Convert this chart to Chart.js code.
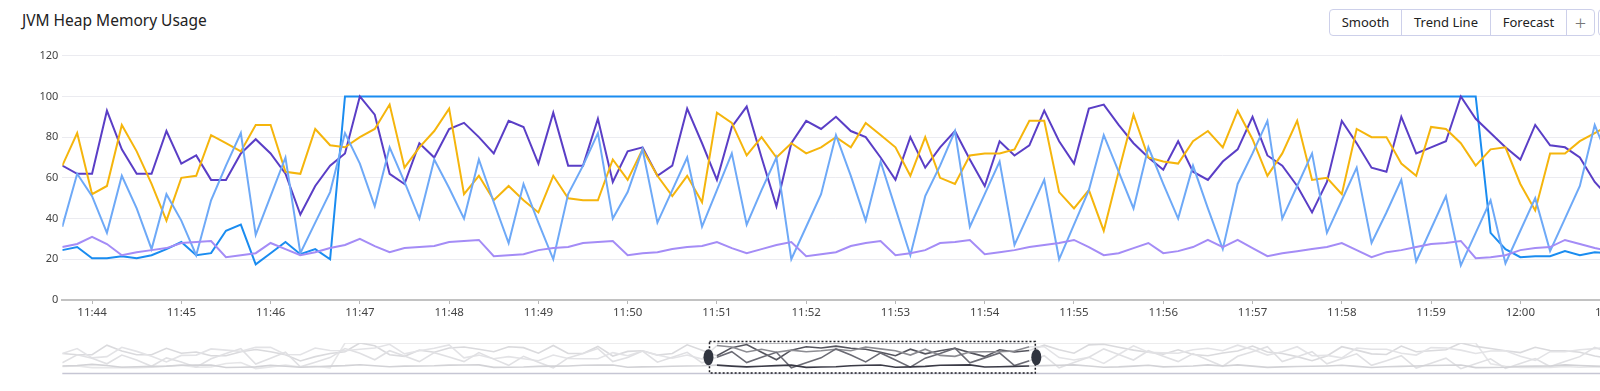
<!DOCTYPE html>
<html>
<head>
<meta charset="utf-8">
<script src="https://cdn.jsdelivr.net/npm/chart.js@4.4.1/dist/chart.umd.min.js"></script>
<style>
  html, body { margin: 0; padding: 0; background: #fff; overflow: hidden; width: 1600px; height: 391px; }
  body { font-family: "Noto Sans", "Open Sans", sans-serif; position: relative; }
  #title { position: absolute; left: 22px; top: 9px; font-size: 15.5px; color: #222; white-space: nowrap; }
  .btns { position: absolute; left: 1329px; top: 9px; height: 27px; display: flex;
          border: 1px solid #cdd0ea; border-radius: 4px; box-sizing: border-box; }
  .btns div { font-size: 13px; color: #222; line-height: 25px; text-align: center; border-right: 1px solid #cdd0ea; }
  .btns div:last-child { border-right: none; color: #777; font-size: 20px; font-weight: 300; }
  .more { position: absolute; left: 1598px; top: 9px; width: 30px; height: 27px; border: 1px solid #cdd0ea; border-radius: 4px; box-sizing: border-box; }
  #main { position: absolute; left: 0; top: 40px; }
  #nav { position: absolute; left: 0; top: 330px; }
</style>
</head>
<body>
<div id="title">JVM Heap Memory Usage</div>
<div class="btns">
  <div style="width:71px">Smooth</div>
  <div style="width:88px">Trend Line</div>
  <div style="width:75px">Forecast</div>
  <div style="width:27px">+</div>
</div>
<div class="more"></div>
<canvas id="main" width="1640" height="285"></canvas>
<canvas id="nav" width="1640" height="50"></canvas>
<script>
// samples every 10 s starting at 11:43:40
const START = 11 * 3600 + 43 * 60 + 40;
const STEP = 10;
const END = 12 * 3600 + 60;

const darkPurple = [66, 62, 62, 93, 74, 62, 62, 83, 67, 71, 59, 59, 72, 79, 72, 62, 42, 56, 66, 72, 100, 91, 62, 57, 77,
  70, 84, 87, 80, 72, 88, 85, 67, 92, 66, 66, 89, 58, 73, 75, 61, 66, 94, 77, 59, 85, 95, 70, 46, 77, 88,
  84, 90, 83, 80, 70, 59, 80, 65, 75, 83, 69, 56, 78, 71, 76, 93, 78, 67, 94, 96, 86, 77, 70, 64, 78, 63, 59,
  68, 74, 90, 71, 66, 56, 43, 58, 88, 77, 65, 63, 90, 72, 75, 78, 100, 89, 82, 75, 69, 86, 76, 75, 70, 58, 50];
const yellow = [66, 82, 52, 56, 86, 73, 57, 39, 60, 61, 81, 77, 73, 86, 86, 63, 62, 84, 76, 75, 80, 84, 96, 65, 75,
  83, 94, 52, 61, 49, 56, 49, 43, 61, 50, 49, 49, 69, 59, 74, 61, 51, 61, 48, 92, 87, 71, 80, 70, 77, 72,
  75, 80, 75, 87, 81, 75, 61, 80, 60, 57, 71, 72, 72, 74, 88, 88, 53, 45, 54, 34, 63, 91, 70, 68, 67, 78, 83,
  75, 93, 79, 61, 72, 88, 59, 60, 52, 84, 80, 80, 67, 61, 85, 84, 77, 66, 74, 75, 57, 44, 72, 72, 78, 82, 86];
const lightBlue = [36, 62, 51, 33, 61, 45, 25, 52, 39, 22, 49, 66, 82, 32, 51, 70, 23, 38, 53, 82, 67, 46, 75, 58, 40,
  69, 55, 40, 69, 48, 28, 57, 38, 20, 52, 66, 82, 40, 53, 74, 38, 54, 70, 36, 54, 72, 37, 54, 70, 20, 36,
  52, 81, 61, 39, 68, 45, 22, 51, 66, 83, 36, 52, 68, 27, 43, 59, 20, 37, 54, 81, 63, 45, 75, 57, 40, 66, 45,
  25, 57, 72, 88, 40, 56, 72, 33, 49, 65, 28, 43, 59, 19, 35, 51, 17, 33, 49, 18, 34, 50, 24, 40, 56, 86, 68];
const brightBlue = [24.5, 26, 20.5, 20.5, 21.5, 20.5, 22, 25, 28.5, 22, 23, 34, 37, 17.5, 23, 28.5, 22.5, 25, 20,
  100, 100, 100, 100, 100, 100, 100, 100, 100, 100, 100, 100, 100, 100, 100, 100, 100, 100, 100, 100,
  100, 100, 100, 100, 100, 100, 100, 100, 100, 100, 100, 100, 100, 100, 100, 100, 100, 100, 100, 100,
  100, 100, 100, 100, 100, 100, 100, 100, 100, 100, 100, 100, 100, 100, 100, 100, 100, 100, 100, 100,
  100, 100, 100, 100, 100, 100, 100, 100, 100, 100, 100, 100, 100, 100, 100, 100, 100,
  33, 25, 21, 21.5, 21.5, 24, 22, 23.5, 23];
const lightPurple = [26, 27.5, 31, 27.5, 22, 23.5, 24.5, 25.5, 28, 28.5, 29, 21, 22, 23, 28, 25, 22, 23.5, 25.5, 27, 30, 26.5, 23.5, 25.5, 26,
  26.5, 28.5, 29, 29.5, 21.5, 22, 22.5, 24.5, 25.5, 26, 28, 28.5, 29, 22, 23, 23.5, 25, 26, 26.5, 28.5, 25.5, 23, 25, 27, 28.5, 21.5,
  22.5, 23.5, 26.5, 28, 29, 22, 23, 24.5, 28, 28.5, 29.5, 22.5, 23.5, 24.5, 26, 27, 28, 29.5, 26, 22, 23, 25.5, 28, 23, 24, 26, 29.5,
  26, 29.5, 25.5, 21.5, 23, 24, 25, 26, 28, 24.5, 21, 23.5, 24.5, 26, 27.5, 28, 29, 20.5, 21, 22, 24.5, 25.5, 26, 29.5, 27.5, 25.5, 24];

const yTicks = [0, 20, 40, 60, 80, 100, 120];
const xTicks = ['11:44', '11:45', '11:46', '11:47', '11:48', '11:49', '11:50', '11:51', '11:52',
  '11:53', '11:54', '11:55', '11:56', '11:57', '11:58', '11:59', '12:00', '12:01'];

// overview brush window
const brushFrom = 11 * 3600 + 50 * 60 + 55;
const brushTo = 11 * 3600 + 54 * 60 + 34;

const times = darkPurple.map((_, i) => START + i * STEP);
const pts = vals => vals.map((v, i) => ({ x: times[i], y: v }));
const toSec = s => { const [h, m] = s.split(':').map(Number); return h * 3600 + m * 60; };

const fmt = s => {
  const h = Math.floor(s / 3600), m = Math.floor((s % 3600) / 60);
  return h + ':' + String(m).padStart(2, '0');
};

const series = [
  { name: 'lightPurple', data: lightPurple, color: '#a48cf6', nav: '#d2d2d6', navIn: '#3a3a46' },
  { name: 'lightBlue', data: lightBlue, color: '#6ea9f7', nav: '#e0e0e3', navIn: '#6b6b74' },
  { name: 'yellow', data: yellow, color: '#f5b50c', nav: '#e3e3e6', navIn: '#8c8c92' },
  { name: 'darkPurple', data: darkPurple, color: '#5a3ec6', nav: '#dadadd', navIn: '#55555e' },
  { name: 'brightBlue', data: brightBlue, color: '#1a8cf0', nav: '#e6e6e8', navIn: '#a0a0a6' },
];

Chart.defaults.font.family = '"Noto Sans", "Open Sans", sans-serif';

new Chart(document.getElementById('main'), {
  type: 'line',
  data: {
    datasets: series.map(s => ({
      label: s.name,
      data: pts(s.data),
      borderColor: s.color,
      borderWidth: 2,
      pointRadius: 0,
      tension: 0,
    }))
  },
  options: {
    responsive: false,
    animation: false,
    devicePixelRatio: 1,
    layout: { padding: { top: 15.7, right: 30.4, bottom: 0, left: 0 } },
    plugins: { legend: { display: false }, tooltip: { enabled: false } },
    scales: {
      x: {
        type: 'linear',
        min: START,
        max: END,
        afterBuildTicks: axis => { axis.ticks = xTicks.map(t => ({ value: toSec(t) })); },
        afterFit: axis => { axis.height = 25; },
        ticks: {
          autoSkip: false,
          maxRotation: 0,
          padding: 2,
          color: '#444',
          font: { size: 11.5 },
          callback: v => fmt(v),
        },
        grid: { drawOnChartArea: false, drawTicks: true, tickLength: 4, tickColor: '#b8b8b8' },
        border: { color: '#c2c2c2', width: 2 },
      },
      y: {
        min: 0,
        max: 120,
        afterBuildTicks: axis => { axis.ticks = yTicks.map(v => ({ value: v })); },
        afterFit: axis => { axis.width = 62.3; },
        ticks: { color: '#444', font: { size: 11 }, padding: 4 },
        grid: { color: '#ebebf0', drawTicks: false },
        border: { display: false },
      }
    }
  }
});

const brushPlugin = {
  id: 'brush',
  beforeDatasetsDraw(chart) {
    const { ctx, chartArea: a } = chart;
    ctx.save();
    ctx.strokeStyle = '#c6c6d4';
    ctx.lineWidth = 1.5;
    ctx.beginPath();
    ctx.moveTo(a.left, a.bottom - 0.5);
    ctx.lineTo(a.right, a.bottom - 0.5);
    ctx.stroke();
    ctx.restore();
  },
  afterDatasetsDraw(chart) {
    const { ctx, scales: { x } } = chart;
    const x1 = x.getPixelForValue(brushFrom), x2 = x.getPixelForValue(brushTo);
    const top = 11.5, bottom = 43, mid = (top + bottom) / 2;
    ctx.save();
    ctx.setLineDash([2, 2]);
    ctx.lineWidth = 1.5;
    ctx.strokeStyle = '#1e1e24';
    ctx.strokeRect(x1, top, x2 - x1, bottom - top);
    ctx.setLineDash([]);
    ctx.fillStyle = '#30343f';
    [x1 - 1, x2 + 1].forEach(cx => {
      ctx.beginPath();
      ctx.ellipse(cx, mid, 5, 8, 0, 0, Math.PI * 2);
      ctx.fill();
    });
    ctx.restore();
  }
};

const inBrush = c => c.p0.parsed.x >= brushFrom && c.p1.parsed.x <= brushTo;

new Chart(document.getElementById('nav'), {
  type: 'line',
  data: {
    datasets: series.map(s => ({
      label: s.name,
      data: pts(s.data),
      borderColor: s.nav,
      borderWidth: 1.6,
      pointRadius: 0,
      tension: 0,
      segment: { borderColor: c => inBrush(c) ? s.navIn : s.nav },
    }))
  },
  options: {
    responsive: false,
    animation: false,
    devicePixelRatio: 1,
    layout: { padding: { top: 13, right: 30.4, bottom: 6, left: 62.3 } },
    plugins: { legend: { display: false }, tooltip: { enabled: false } },
    scales: {
      x: { type: 'linear', min: START, max: END, display: false },
      y: { min: 0, max: 100, display: false },
    }
  },
  plugins: [brushPlugin]
});
</script>
</body>
</html>
